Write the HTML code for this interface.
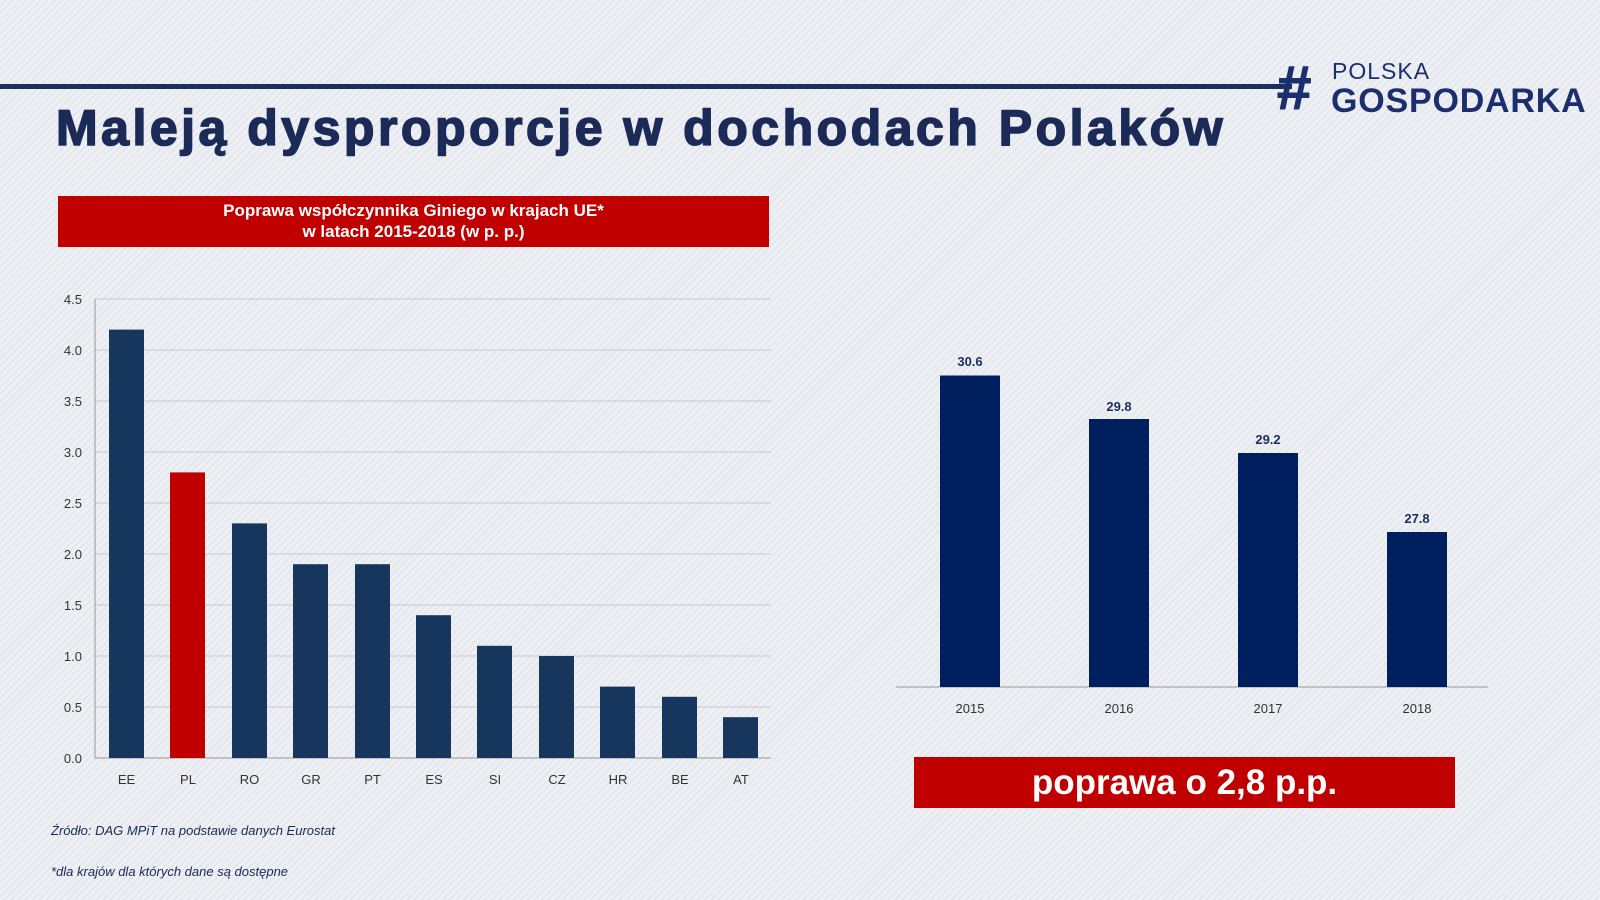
<!DOCTYPE html>
<html><head><meta charset="utf-8"><style>
body{margin:0;width:1600px;height:900px;overflow:hidden;font-family:"Liberation Sans",sans-serif;
background:repeating-linear-gradient(135deg,#eef0f4 0 3px,#e4e7ed 3px 5px);position:relative}
.a{position:absolute}
</style></head><body>
<div class="a" style="left:0;top:84px;width:1292px;height:5px;background:#1b2f5e"></div>
<div class="a" style="left:56px;top:99px;font-size:50px;font-weight:bold;color:#1b2a56;letter-spacing:3.5px;-webkit-text-stroke:1.6px #1b2a56;white-space:nowrap">Maleją dysproporcje w dochodach Polaków</div>
<div class="a" style="left:1276px;top:58px;font-size:62px;font-weight:bold;font-style:italic;color:#1b2f6e;line-height:1;-webkit-text-stroke:1px #1b2f6e">#</div>
<div class="a" style="left:1332px;top:58px;font-size:23px;color:#1b2f6e;letter-spacing:1px">POLSKA</div>
<div class="a" style="left:1331px;top:82px;font-size:34px;font-weight:bold;color:#1b2f6e;letter-spacing:0.8px">GOSPODARKA</div>
<div class="a" style="left:58px;top:196px;width:711px;height:51px;background:#c00000;color:#fff;font-weight:bold;font-size:17px;text-align:center;line-height:21px;padding-top:4px;box-sizing:border-box">Poprawa współczynnika Giniego w krajach UE*<br>w latach 2015-2018 (w p. p.)</div>
<svg class="a" style="left:0;top:0" width="1600" height="900" font-family="Liberation Sans, sans-serif">
<g stroke="#c8c8c8" stroke-width="1">
<line x1="95" x2="771" y1="299" y2="299"/><line x1="95" x2="771" y1="350" y2="350"/><line x1="95" x2="771" y1="401" y2="401"/><line x1="95" x2="771" y1="452" y2="452"/><line x1="95" x2="771" y1="503" y2="503"/><line x1="95" x2="771" y1="554" y2="554"/><line x1="95" x2="771" y1="605" y2="605"/><line x1="95" x2="771" y1="656" y2="656"/><line x1="95" x2="771" y1="707" y2="707"/>
</g>
<line x1="95" x2="771" y1="758" y2="758" stroke="#999"/><line x1="95" x2="95" y1="299" y2="758" stroke="#999"/>
<g font-size="13" fill="#333" text-anchor="end">
<text x="82" y="304">4.5</text><text x="82" y="355">4.0</text><text x="82" y="406">3.5</text><text x="82" y="457">3.0</text><text x="82" y="508">2.5</text><text x="82" y="559">2.0</text><text x="82" y="610">1.5</text><text x="82" y="661">1.0</text><text x="82" y="712">0.5</text><text x="82" y="763">0.0</text>
</g>
<g fill="#17365d">
<rect x="109" y="329.6" width="35" height="428.4"/>
<rect x="170" y="472.4" width="35" height="285.6" fill="#c00000"/>
<rect x="232" y="523.4" width="35" height="234.6"/>
<rect x="293" y="564.2" width="35" height="193.8"/>
<rect x="355" y="564.2" width="35" height="193.8"/>
<rect x="416" y="615.2" width="35" height="142.8"/>
<rect x="477" y="645.8" width="35" height="112.2"/>
<rect x="539" y="656" width="35" height="102"/>
<rect x="600" y="686.6" width="35" height="71.4"/>
<rect x="662" y="696.8" width="35" height="61.2"/>
<rect x="723" y="717.2" width="35" height="40.8"/>
</g>
<g font-size="13" fill="#333" text-anchor="middle">
<text x="126.5" y="784">EE</text><text x="188" y="784">PL</text><text x="249.5" y="784">RO</text><text x="311" y="784">GR</text><text x="372.5" y="784">PT</text><text x="434" y="784">ES</text><text x="495" y="784">SI</text><text x="557" y="784">CZ</text><text x="618" y="784">HR</text><text x="680" y="784">BE</text><text x="741" y="784">AT</text>
</g>
<line x1="896" x2="1488" y1="687" y2="687" stroke="#999"/>
<g fill="#001f5f">
<rect x="940" y="375.5" width="60" height="311.5"/>
<rect x="1089" y="419" width="60" height="268"/>
<rect x="1238" y="453" width="60" height="234"/>
<rect x="1387" y="532" width="60" height="155"/>
</g>
<g font-size="13" fill="#1b2f5e" font-weight="bold" text-anchor="middle">
<text x="970" y="366">30.6</text><text x="1119" y="411">29.8</text><text x="1268" y="444">29.2</text><text x="1417" y="523">27.8</text>
</g>
<g font-size="13" fill="#333" text-anchor="middle">
<text x="970" y="713">2015</text><text x="1119" y="713">2016</text><text x="1268" y="713">2017</text><text x="1417" y="713">2018</text>
</g>
</svg>
<div class="a" style="left:914px;top:757px;width:541px;height:51px;background:#c00000;color:#fff;font-weight:bold;font-size:35px;text-align:center;line-height:51px">poprawa o 2,8 p.p.</div>
<div class="a" style="left:51px;top:823px;font-size:13px;font-style:italic;color:#1b2a56">Źródło: DAG MPiT na podstawie danych Eurostat</div>
<div class="a" style="left:51px;top:864px;font-size:13px;font-style:italic;color:#1b2a56">*dla krajów dla których dane są dostępne</div>
</body></html>
